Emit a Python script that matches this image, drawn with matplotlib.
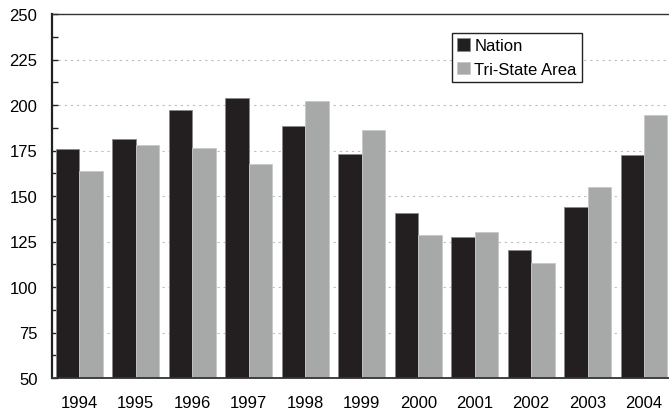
import matplotlib.pyplot as plt
import numpy as np

plt.rcParams['font.family'] = ['Liberation Sans', 'DejaVu Sans']

# data
years = ['1994', '1995', '1996', '1997', '1998', '1999',
         '2000', '2001', '2002', '2003', '2004']
nation = [176, 181.5, 197, 204, 188.5, 173, 140.5, 127.5, 120.5, 144, 172.5]
tristate = [163.5, 178, 176.5, 167.5, 202, 186, 128.5, 130, 113, 155, 194.5]

fig = plt.figure(figsize=(6.69, 4.14), dpi=100)
ax = fig.add_axes([52 / 669, 35 / 414, 617 / 669, 364 / 414])

x = np.arange(len(years))
w = 0.413
ax.bar(x - w / 2, np.array(nation) - 50, w, bottom=50, color='#231f20',
       edgecolor='#8a8a8a', linewidth=0.6, label='Nation', zorder=2)
ax.bar(x + w / 2, np.array(tristate) - 50, w, bottom=50, color='#a7a9a8',
       edgecolor='#c8c8c8', linewidth=0.6, label='Tri-State Area', zorder=2)

ax.set_xlim(-0.484, 10.44)
ax.set_ylim(50, 250)
ax.set_yticks(np.arange(50, 251, 25))
ax.set_yticks(np.arange(50, 251, 12.5), minor=True)
ax.set_xticks(x)
ax.set_xticklabels(years)

for v in range(75, 250, 25):
    ax.axhline(v, color='#bdbdbd', linewidth=0.8, linestyle=(0, (2, 3.5)), zorder=1)

ax.tick_params(axis='y', which='both', direction='in', length=4, width=1,
               color='#222222', labelsize=12, pad=10.5)
ax.tick_params(axis='x', length=0, labelsize=12, pad=12.5)

ax.spines['right'].set_visible(False)
ax.spines['left'].set_linewidth(1.6)
ax.spines['left'].set_color('#222222')
ax.spines['top'].set_linewidth(1.0)
ax.spines['top'].set_color('#333333')
ax.spines['bottom'].set_linewidth(1.3)
ax.spines['bottom'].set_color('#333333')

leg = ax.legend(loc='upper left', bbox_to_anchor=(0.649, 0.947), fontsize=12,
                frameon=True, fancybox=False, borderpad=0.3, labelspacing=0.52,
                handlelength=0.75, handleheight=0.75, handletextpad=0.26,
                borderaxespad=0)
leg.get_frame().set_edgecolor('#222222')
leg.get_frame().set_linewidth(1.0)
leg.get_frame().set_alpha(1)

fig.savefig('out.png', dpi=100)
